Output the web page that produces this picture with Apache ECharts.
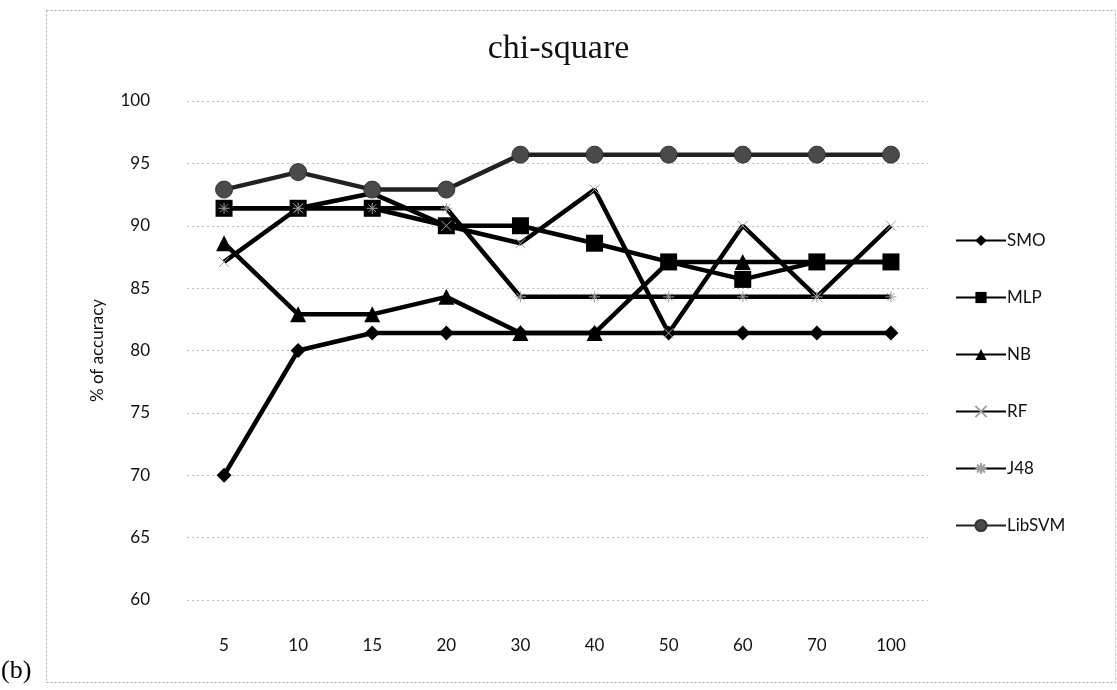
<!DOCTYPE html>
<html>
<head>
<meta charset="utf-8">
<script src="https://cdn.jsdelivr.net/npm/echarts@6/dist/echarts.min.js"></script>
<style>
  html, body { margin: 0; padding: 0; background: #fff; }
  #chart { width: 1117px; height: 690px; }
</style>
</head>
<body>
<div id="chart"></div>
<script>
// Number of selected features
const categories = ['5', '10', '15', '20', '30', '40', '50', '60', '70', '100'];

// Accuracy (%) per classifier
const smo    = [70.0, 80.0, 81.4, 81.4, 81.4, 81.4, 81.4, 81.4, 81.4, 81.4];
const mlp    = [91.4, 91.4, 91.4, 90.0, 90.0, 88.6, 87.1, 85.7, 87.1, 87.1];
const nb     = [88.6, 82.9, 82.9, 84.3, 81.4, 81.4, 87.1, 87.1, 87.1, 87.1];
const rf     = [87.1, 91.4, 92.6, 90.0, 88.6, 92.9, 81.4, 90.0, 84.3, 90.0];
const j48    = [91.4, 91.4, 91.4, 91.4, 84.3, 84.3, 84.3, 84.3, 84.3, 84.3];
const libsvm = [92.9, 94.3, 92.9, 92.9, 95.7, 95.7, 95.7, 95.7, 95.7, 95.7];

const seriesNames = ['SMO', 'MLP', 'NB', 'RF', 'J48', 'LibSVM'];

const labelFont = 'Lato, "Open Sans", sans-serif';

function lineSeries(name, data, symbol, size, fill, stroke, strokeWidth, lineColor) {
  return {
    name: name,
    type: 'line',
    data: data,
    symbol: symbol,
    symbolSize: size,
    showAllSymbol: true,
    lineStyle: { color: lineColor || '#000', width: 4.5 },
    itemStyle: {
      color: fill,
      borderColor: stroke || fill,
      borderWidth: strokeWidth || 0
    },
    emphasis: { disabled: true },
    animation: false
  };
}

const chart = echarts.init(document.getElementById('chart'), null, { renderer: 'canvas' });

chart.setOption({
  backgroundColor: '#fff',
  animation: false,
  title: {
    text: 'chi-square',
    left: 'center',
    top: 27,
    textStyle: {
      fontFamily: '"Liberation Serif", "DejaVu Serif", serif',
      fontWeight: 'normal',
      fontSize: 34,
      color: '#111'
    }
  },
  legend: {
    orient: 'vertical',
    left: 950,
    top: 227,
    itemWidth: 50,
    itemHeight: 14,
    itemGap: 40,
    data: seriesNames,
    textStyle: { fontFamily: labelFont, fontSize: 17, color: '#111', padding: [0, 0, 0, -4] }
  },
  grid: { left: 187, right: 189, top: 101, bottom: 90 },
  xAxis: {
    type: 'category',
    data: categories,
    boundaryGap: true,
    axisLine: { show: false },
    axisTick: { show: false },
    axisLabel: { margin: 37, fontFamily: labelFont, fontSize: 17, color: '#111' },
    splitLine: { show: false }
  },
  yAxis: {
    type: 'value',
    min: 60,
    max: 100,
    interval: 5,
    name: '% of accuracy',
    nameLocation: 'middle',
    nameGap: 81,
    nameTextStyle: { fontFamily: labelFont, fontSize: 17, color: '#111' },
    axisLine: { show: false },
    axisTick: { show: false },
    axisLabel: { margin: 37, fontFamily: labelFont, fontSize: 17, color: '#111' },
    splitLine: { show: true, lineStyle: { color: '#bdbdbd', width: 1, type: [2, 3] } }
  },
  series: [
    lineSeries('SMO', smo, 'diamond', 15, '#000'),
    lineSeries('MLP', mlp, 'rect', 17, '#000'),
    lineSeries('NB', nb, 'triangle', 16, '#000'),
    lineSeries('RF', rf, 'path://M0,0L10,10M10,0L0,10', 10, 'rgba(0,0,0,0)', '#a0a0a0', 1),
    lineSeries('J48', j48, 'path://M0,5L10,5M5,0L5,10M1.5,1.5L8.5,8.5M8.5,1.5L1.5,8.5', 11, 'rgba(0,0,0,0)', '#a0a0a0', 1),
    lineSeries('LibSVM', libsvm, 'circle', 17, '#4a4a4a', '#333', 1, '#222')
  ],
  graphic: [
    {
      type: 'rect',
      shape: { x: 46.5, y: 10.5, width: 1069, height: 672 },
      style: { fill: 'none', stroke: '#a8a8a8', lineWidth: 1, lineDash: [2, 2] },
      silent: true
    },
    {
      type: 'text',
      left: 1,
      top: 658,
      style: {
        text: '(b)',
        fontFamily: '"Liberation Serif", "DejaVu Serif", serif',
        fontSize: 26,
        fill: '#000'
      },
      silent: true
    }
  ]
});
</script>
</body>
</html>
